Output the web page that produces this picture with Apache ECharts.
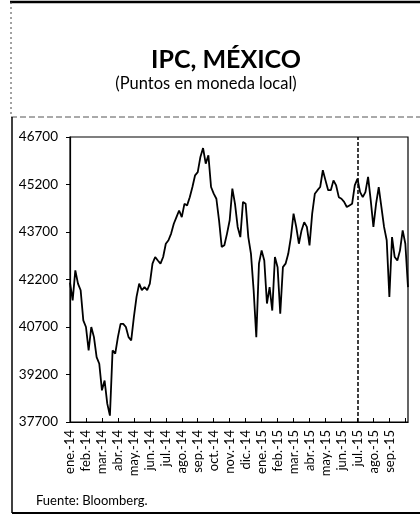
<!DOCTYPE html>
<html><head><meta charset="utf-8">
<script src="https://cdn.jsdelivr.net/npm/echarts@6/dist/echarts.min.js"></script>
<style>html,body{margin:0;padding:0;background:#fff}#c{width:420px;height:515px}</style>
</head><body><div id="c"></div>
<script>
// Month tick labels (one tick every 6 observations)
const monthLabels = ['ene.-14','feb.-14','mar.-14','abr.-14','may.-14','jun.-14','jul.-14','ago.-14','sep.-14','oct.-14','nov.-14','dic.-14',
  'ene.-15','feb.-15','mar.-15','abr.-15','may.-15','jun.-15','jul.-15','ago.-15','sep.-15',''];
const obsPerMonth = 6;
// IPC index level (points), ~6 observations per month, Jan-2014 to early Oct-2015
const ipcValues = [
  42100,41540,42490,42070,41860,40910,
  40700,39960,40700,40380,39750,39540,
  38700,39010,38280,37900,39960,39860,
  40380,40800,40800,40700,40380,40280,
  41010,41650,42070,41860,41960,41860,
  42070,42700,42910,42800,42700,42910,
  43330,43440,43650,43960,44170,44380,
  44170,44590,44540,44800,45120,45490,
  45590,46070,46350,45860,46120,45120,
  44910,44750,44070,43230,43280,43650,
  44070,45070,44590,43860,43540,44650,
  44590,43540,43010,41860,40380,42700,
  43120,42800,41440,41960,41220,42910,
  42590,41120,42590,42700,43010,43540,
  44280,43860,43330,43750,44010,43860,
  43280,44280,44910,45020,45120,45650,
  45330,45020,45020,45330,45170,44800,
  44750,44650,44490,44540,44590,45170,
  45380,44960,44800,44960,45440,44700,
  43860,44590,45120,44490,43860,43440,
  41650,43540,42910,42800,43120,43750,
  43330,41960
];
const markerMonth = 'jul.-15';
const yTicks = {min: 37700, max: 46700, step: 1500};

const categories = ipcValues.map((v, i) => (i % obsPerMonth === 0 ? monthLabels[i / obsPerMonth] : ''));
const markerIndex = monthLabels.indexOf(markerMonth) * obsPerMonth;

const chart = echarts.init(document.getElementById('c'), null, {renderer: 'canvas'});
const FONT = 'Lato';
chart.setOption({
  animation: false,
  backgroundColor: '#fff',
  textStyle: {fontFamily: FONT},
  title: [
    {text: 'IPC, MÉXICO', left: 221, top: 42, textAlign: 'center',
     textStyle: {fontFamily: FONT, fontSize: 25, fontWeight: 'bold', color: '#000'}},
    {text: '(Puntos en moneda local)', left: 201, top: 70, textAlign: 'center',
     textStyle: {fontFamily: FONT, fontSize: 16.5, fontWeight: 'normal', color: '#000'}},
    {text: 'Fuente: Bloomberg.', left: 31, top: 489,
     textStyle: {fontFamily: FONT, fontSize: 13, fontWeight: 'normal', color: '#000'}}
  ],
  grid: {left: 70, right: 12, top: 137, bottom: 93, show: true, borderColor: '#000', borderWidth: 1.2, backgroundColor: 'transparent'},
  xAxis: {
    type: 'category', data: categories, boundaryGap: false,
    axisLine: {lineStyle: {color: '#000', width: 1.2}},
    axisTick: {inside: true, length: 4, interval: (i) => i % obsPerMonth === 0, lineStyle: {color: '#000'}},
    axisLabel: {rotate: 90, interval: (i) => i % obsPerMonth === 0, margin: 8, fontSize: 13, color: '#000', fontFamily: FONT},
    splitLine: {show: false}
  },
  yAxis: {
    type: 'value', min: yTicks.min, max: yTicks.max, interval: yTicks.step,
    axisLine: {show: true, lineStyle: {color: '#000', width: 1.2}},
    axisTick: {show: true, length: 4, lineStyle: {color: '#000'}},
    axisLabel: {fontSize: 13.5, color: '#000', margin: 12, fontFamily: FONT, formatter: (v) => String(v)},
    splitLine: {show: false}
  },
  series: [{
    type: 'line', data: ipcValues, showSymbol: false, symbol: 'none',
    lineStyle: {color: '#000', width: 1.8},
    markLine: {
      silent: true, symbol: 'none', label: {show: false},
      lineStyle: {color: '#000', type: [4, 2], width: 1.5},
      data: [{xAxis: markerIndex}]
    }
  }],
  graphic: [
    {type: 'line', shape: {x1: 10, y1: 2, x2: 420, y2: 2}, style: {stroke: '#000', lineWidth: 2.5}},
    {type: 'line', shape: {x1: 11, y1: 2, x2: 11, y2: 117}, style: {stroke: '#444', lineWidth: 1, lineDash: [2, 3]}},
    {type: 'line', shape: {x1: 11, y1: 117, x2: 420, y2: 117}, style: {stroke: '#555', lineWidth: 1, lineDash: [6, 3]}},
    {type: 'line', shape: {x1: 12, y1: 117, x2: 12, y2: 513}, style: {stroke: '#000', lineWidth: 1.5}},
    {type: 'line', shape: {x1: 12, y1: 513, x2: 420, y2: 513}, style: {stroke: '#000', lineWidth: 2}}
  ]
});
</script></body></html>
